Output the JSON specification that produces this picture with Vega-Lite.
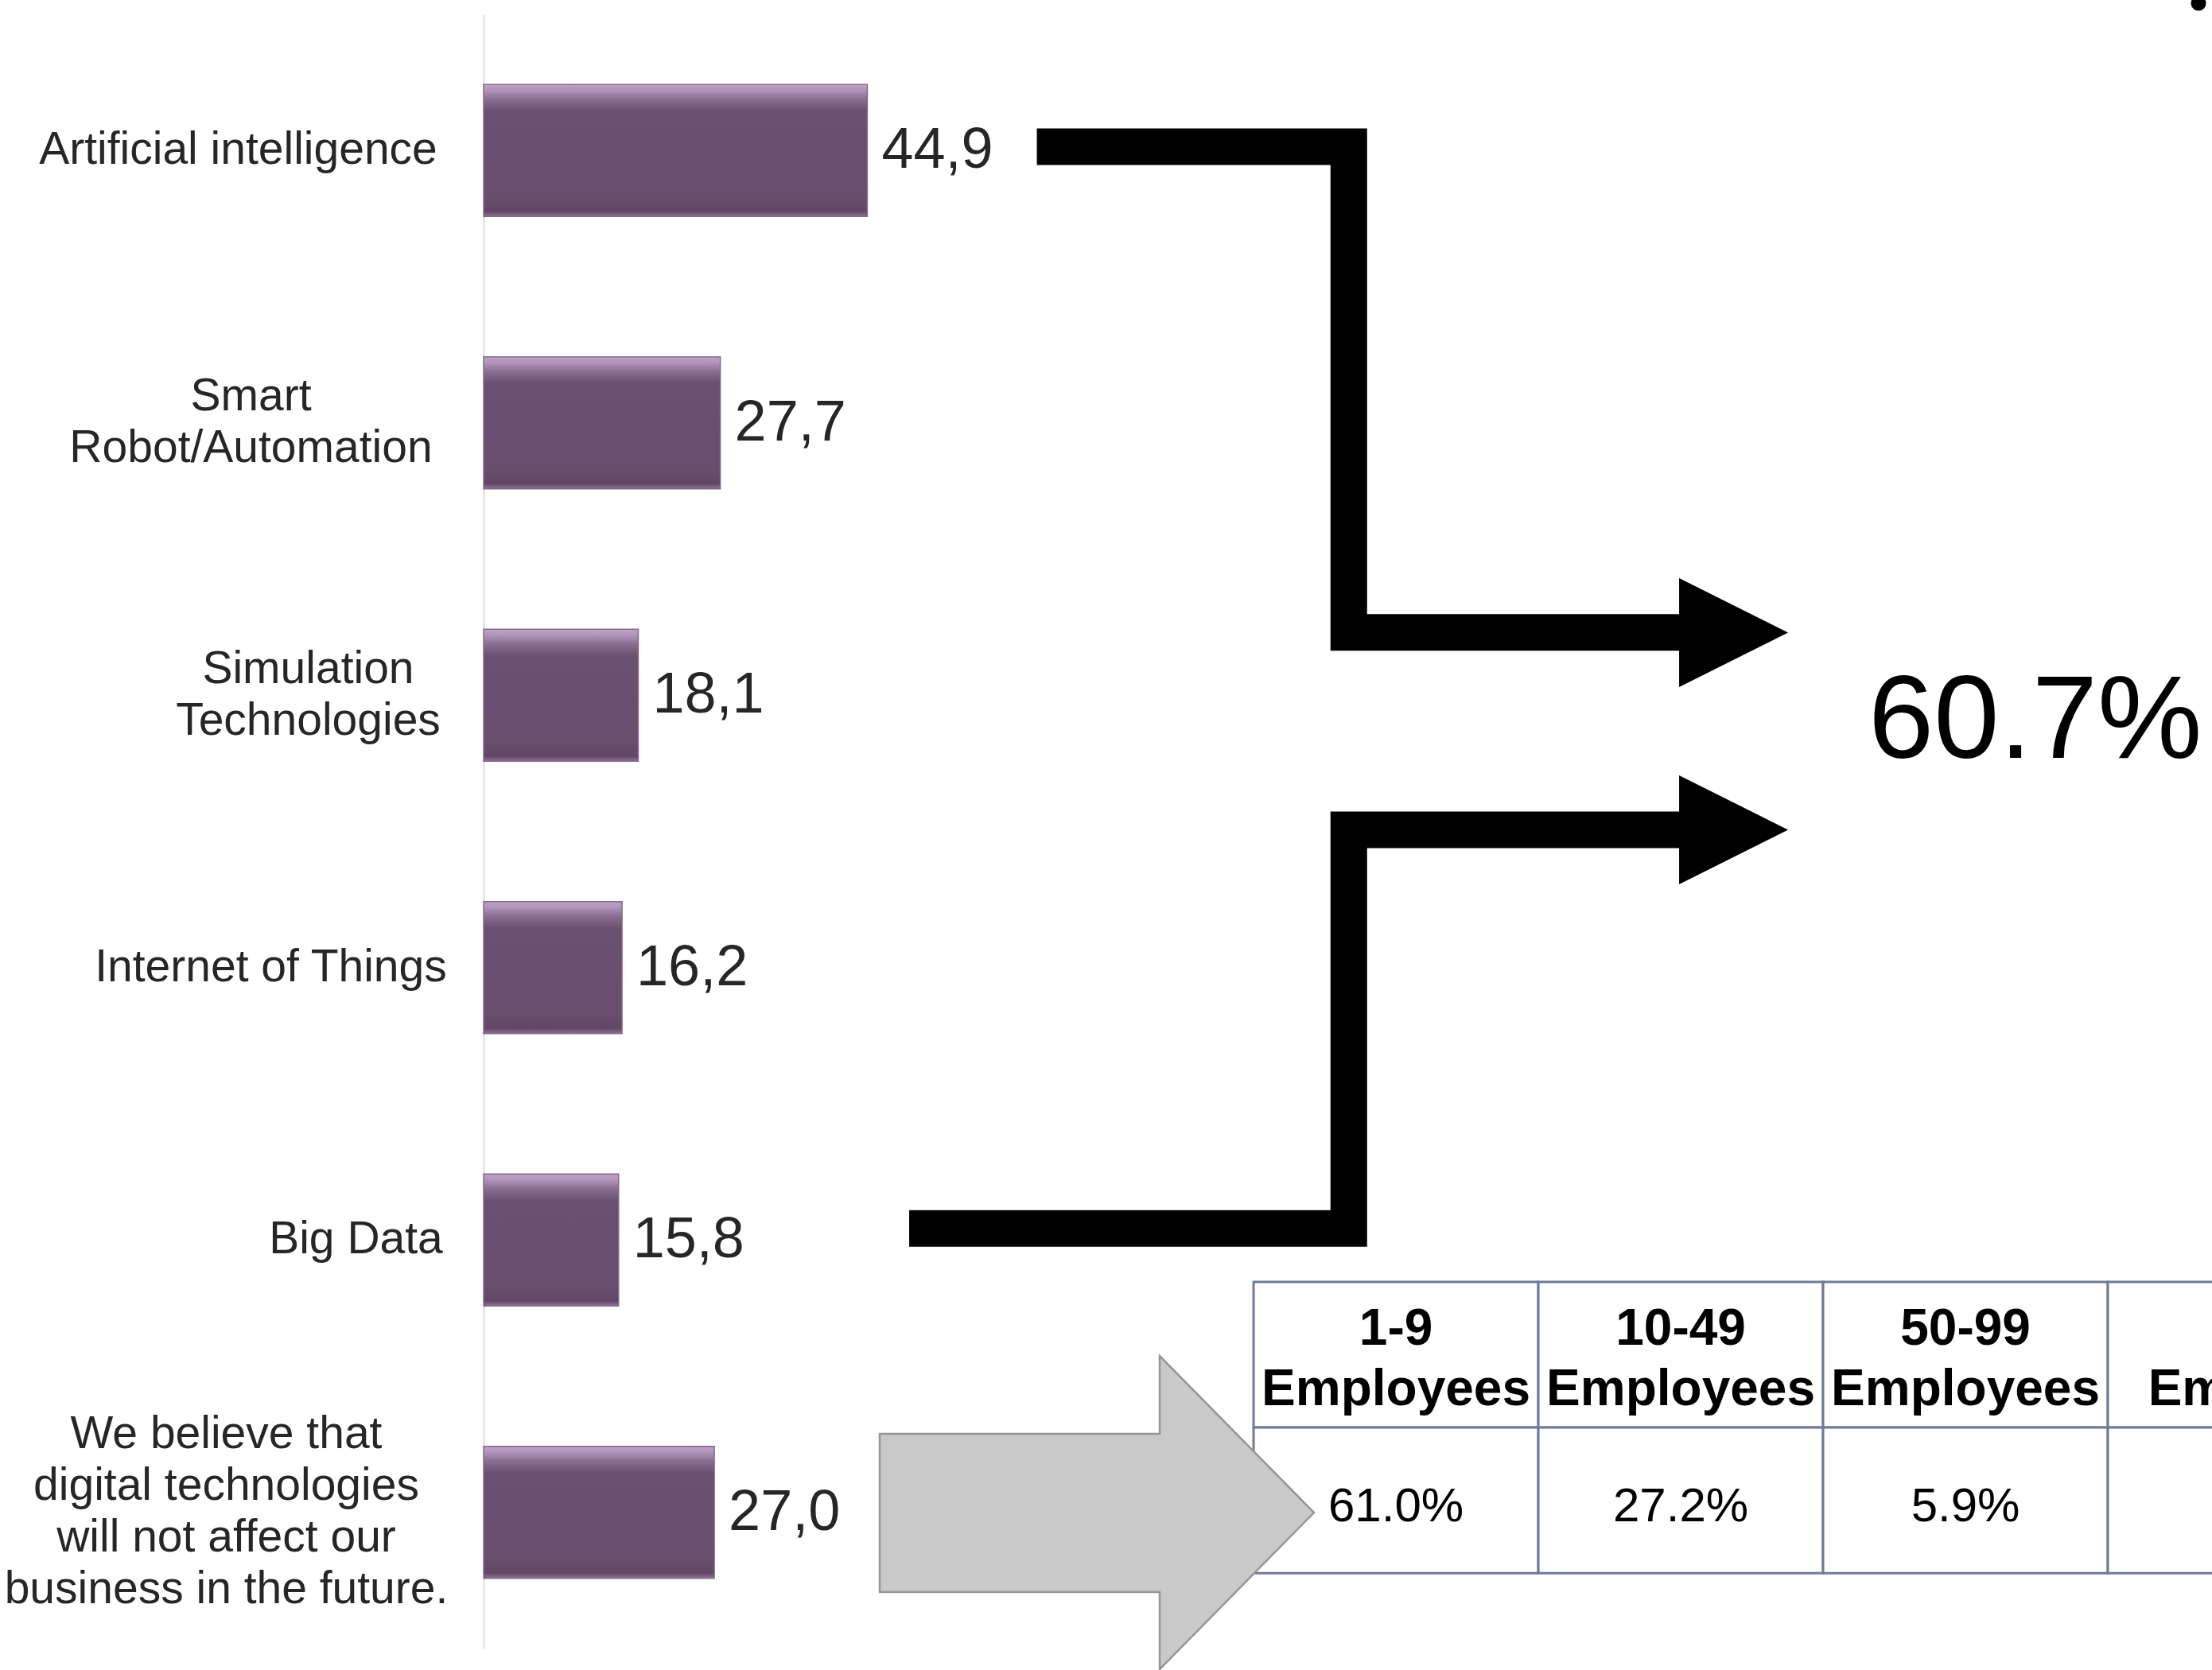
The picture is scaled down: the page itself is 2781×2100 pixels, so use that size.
{
  "$schema": "https://vega.github.io/schema/vega-lite/v6.json",
  "width": 2173,
  "height": 2055,
  "autosize": "none",
  "padding": {"left": 608, "top": 18, "right": 0, "bottom": 27},
  "background": "white",
  "config": {"view": {"stroke": null}, "font": "Liberation Sans"},
  "datasets": {
    "bars": [
      {"tech": "Artificial intelligence", "value": 44.9, "label": "44,9"},
      {"tech": "Smart\nRobot/Automation", "value": 27.7, "label": "27,7"},
      {"tech": "Simulation\nTechnologies", "value": 18.1, "label": "18,1"},
      {"tech": "Internet of Things", "value": 16.2, "label": "16,2"},
      {"tech": "Big Data", "value": 15.8, "label": "15,8"},
      {"tech": "We believe that\ndigital technologies\nwill not affect our\nbusiness in the future.", "value": 27.0, "label": "27,0"}
    ],
    "connectors": [
      {"id": "top", "o": 1, "v": 64.74, "r": 0.486},
      {"id": "top", "o": 2, "v": 101.24, "r": 0.486},
      {"id": "top", "o": 3, "v": 101.24, "r": 2.269},
      {"id": "top", "o": 4, "v": 140.3, "r": 2.269},
      {"id": "bottom", "o": 1, "v": 49.8, "r": 4.458},
      {"id": "bottom", "o": 2, "v": 101.24, "r": 4.458},
      {"id": "bottom", "o": 3, "v": 101.24, "r": 2.994},
      {"id": "bottom", "o": 4, "v": 140.3, "r": 2.994}
    ],
    "heads": [
      {"id": "top", "v": 146.27, "r": 2.27},
      {"id": "bottom", "v": 146.27, "r": 2.994}
    ],
    "table": [
      {"hdr": "1-9\nEmployees", "share": "61.0%", "x0": 90.1, "x1": 123.42, "xc": 106.76},
      {"hdr": "10-49\nEmployees", "share": "27.2%", "x0": 123.42, "x1": 156.74, "xc": 140.08},
      {"hdr": "50-99\nEmployees", "share": "5.9%", "x0": 156.74, "x1": 190.06, "xc": 173.4},
      {"hdr": "100+\nEmployees", "share": "", "x0": 190.06, "x1": 231.0, "xc": 210.5}
    ],
    "bigArrow": [{"name": "not affected", "v": 71.76, "r": 5.501}],
    "total": [{"t": "60.7%", "v": 162.04, "r": 2.73}],
    "dot": [{"v": 200.67, "r": -0.041}]
  },
  "layer": [
    {
      "data": {"name": "bars"},
      "encoding": {
        "y": {
          "field": "tech", "type": "nominal", "sort": null,
          "scale": {"paddingInner": 0.515, "paddingOuter": 0.2575},
          "axis": {
            "title": null, "ticks": false, "tickSize": 0, "grid": false,
            "domainColor": "#dcdcdc", "domainWidth": 2,
            "labelExpr": "split(datum.value, '\\n')",
            "labelFont": "Liberation Sans", "labelFontSize": 57, "labelColor": "#262626",
            "labelLineHeight": 65, "labelAlign": "center", "labelBaseline": "middle",
            "labelLimit": 1000, "labelOverlap": false, "labelBound": false,
            "labelOffset": {
              "condition": [
                {"test": "indexof(datum.value,'Smart')==0", "value": -32.5},
                {"test": "indexof(datum.value,'Simulation')==0", "value": -32.5},
                {"test": "indexof(datum.value,'We believe')==0", "value": -97.5}
              ],
              "value": 0
            },
            "labelPadding": {
              "condition": [
                {"test": "indexof(datum.value,'Artificial')==0", "value": 309},
                {"test": "indexof(datum.value,'Smart')==0", "value": 293},
                {"test": "indexof(datum.value,'Simulation')==0", "value": 221},
                {"test": "indexof(datum.value,'Internet')==0", "value": 268},
                {"test": "indexof(datum.value,'Big')==0", "value": 161}
              ],
              "value": 324
            }
          }
        },
        "x": {"field": "value", "type": "quantitative", "scale": {"domain": [0, 202.25], "nice": false, "zero": true}, "axis": null}
      },
      "layer": [
        {
          "mark": {
            "type": "bar",
            "color": {
              "gradient": "linear", "x1": 0, "y1": 0, "x2": 0, "y2": 1,
              "stops": [
                {"offset": 0, "color": "#bea3c6"},
                {"offset": 0.04, "color": "#b396bb"},
                {"offset": 0.11, "color": "#8b6f92"},
                {"offset": 0.2, "color": "#6a5071"},
                {"offset": 0.85, "color": "#694e6e"},
                {"offset": 0.96, "color": "#614766"},
                {"offset": 1, "color": "#8e7594"}
              ]
            },
            "stroke": "#86698c", "strokeWidth": 1.5
          }
        },
        {
          "mark": {"type": "text", "align": "left", "baseline": "middle", "dx": 18, "fontSize": 72, "color": "#262626", "font": "Liberation Sans"},
          "encoding": {"text": {"field": "label"}}
        }
      ]
    },
    {
      "data": {"name": "table"},
      "mark": {"type": "rect", "fill": "white", "stroke": "#6f7a96", "strokeWidth": 3},
      "encoding": {
        "x": {"field": "x0", "type": "quantitative", "scale": {"domain": [0, 202.25], "nice": false}, "axis": null},
        "x2": {"field": "x1"},
        "y": {"datum": 4.654, "type": "quantitative", "scale": {"domain": [0, 6], "reverse": true, "nice": false, "zero": false}, "axis": null},
        "y2": {"datum": 5.188}
      }
    },
    {
      "data": {"name": "table"},
      "mark": {"type": "rect", "fill": "white", "stroke": "#6f7a96", "strokeWidth": 3},
      "encoding": {
        "x": {"field": "x0", "type": "quantitative", "scale": {"domain": [0, 202.25], "nice": false}, "axis": null},
        "x2": {"field": "x1"},
        "y": {"datum": 5.188, "type": "quantitative", "scale": {"domain": [0, 6], "reverse": true, "nice": false, "zero": false}, "axis": null},
        "y2": {"datum": 5.723}
      }
    },
    {
      "data": {"name": "table"},
      "mark": {"type": "text", "align": "center", "baseline": "alphabetic", "lineBreak": "\n", "lineHeight": 76, "fontSize": 64, "fontWeight": "bold", "color": "black", "font": "Liberation Sans"},
      "encoding": {
        "x": {"field": "xc", "type": "quantitative", "scale": {"domain": [0, 202.25], "nice": false}, "axis": null},
        "y": {"datum": 4.885, "type": "quantitative", "scale": {"domain": [0, 6], "reverse": true, "nice": false, "zero": false}, "axis": null},
        "text": {"field": "hdr"}
      }
    },
    {
      "data": {"name": "table"},
      "mark": {"type": "text", "align": "center", "baseline": "alphabetic", "fontSize": 60, "color": "black", "font": "Liberation Sans"},
      "encoding": {
        "x": {"field": "xc", "type": "quantitative", "scale": {"domain": [0, 202.25], "nice": false}, "axis": null},
        "y": {"datum": 5.533, "type": "quantitative", "scale": {"domain": [0, 6], "reverse": true, "nice": false, "zero": false}, "axis": null},
        "text": {"field": "share"}
      }
    },
    {
      "data": {"name": "bigArrow"},
      "mark": {
        "type": "point", "filled": true, "opacity": 1,
        "shape": "M-1,-0.3626L0.2894,-0.3626L0.2894,-0.7216L1,0L0.2894,0.7216L0.2894,0.3663L-1,0.3663Z",
        "size": 298116, "color": "#c9c9c9", "stroke": "#969696", "strokeWidth": 2.5
      },
      "encoding": {
        "x": {"field": "v", "type": "quantitative", "scale": {"domain": [0, 202.25], "nice": false}, "axis": null},
        "y": {"field": "r", "type": "quantitative", "scale": {"domain": [0, 6], "reverse": true, "nice": false, "zero": false}, "axis": null}
      }
    },
    {
      "data": {"name": "connectors"},
      "mark": {"type": "line", "color": "black", "strokeWidth": 46, "strokeCap": "butt", "strokeJoin": "miter", "strokeMiterLimit": 10},
      "encoding": {
        "x": {"field": "v", "type": "quantitative", "scale": {"domain": [0, 202.25], "nice": false}, "axis": null},
        "y": {"field": "r", "type": "quantitative", "scale": {"domain": [0, 6], "reverse": true, "nice": false, "zero": false}, "axis": null},
        "detail": {"field": "id"},
        "order": {"field": "o"}
      }
    },
    {
      "data": {"name": "heads"},
      "mark": {"type": "point", "filled": true, "opacity": 1, "shape": "M-1,-1L1,0L-1,1Z", "size": 18769, "color": "black", "strokeWidth": 0},
      "encoding": {
        "x": {"field": "v", "type": "quantitative", "scale": {"domain": [0, 202.25], "nice": false}, "axis": null},
        "y": {"field": "r", "type": "quantitative", "scale": {"domain": [0, 6], "reverse": true, "nice": false, "zero": false}, "axis": null}
      }
    },
    {
      "data": {"name": "total"},
      "mark": {"type": "text", "align": "left", "baseline": "alphabetic", "fontSize": 148, "color": "black", "font": "Liberation Sans"},
      "encoding": {
        "x": {"field": "v", "type": "quantitative", "scale": {"domain": [0, 202.25], "nice": false}, "axis": null},
        "y": {"field": "r", "type": "quantitative", "scale": {"domain": [0, 6], "reverse": true, "nice": false, "zero": false}, "axis": null},
        "text": {"field": "t"}
      }
    },
    {
      "data": {"name": "dot"},
      "mark": {"type": "point", "filled": true, "opacity": 1, "shape": "circle", "size": 361, "color": "black"},
      "encoding": {
        "x": {"field": "v", "type": "quantitative", "scale": {"domain": [0, 202.25], "nice": false}, "axis": null},
        "y": {"field": "r", "type": "quantitative", "scale": {"domain": [0, 6], "reverse": true, "nice": false, "zero": false}, "axis": null}
      }
    }
  ],
  "resolve": {"scale": {"y": "independent"}}
}
